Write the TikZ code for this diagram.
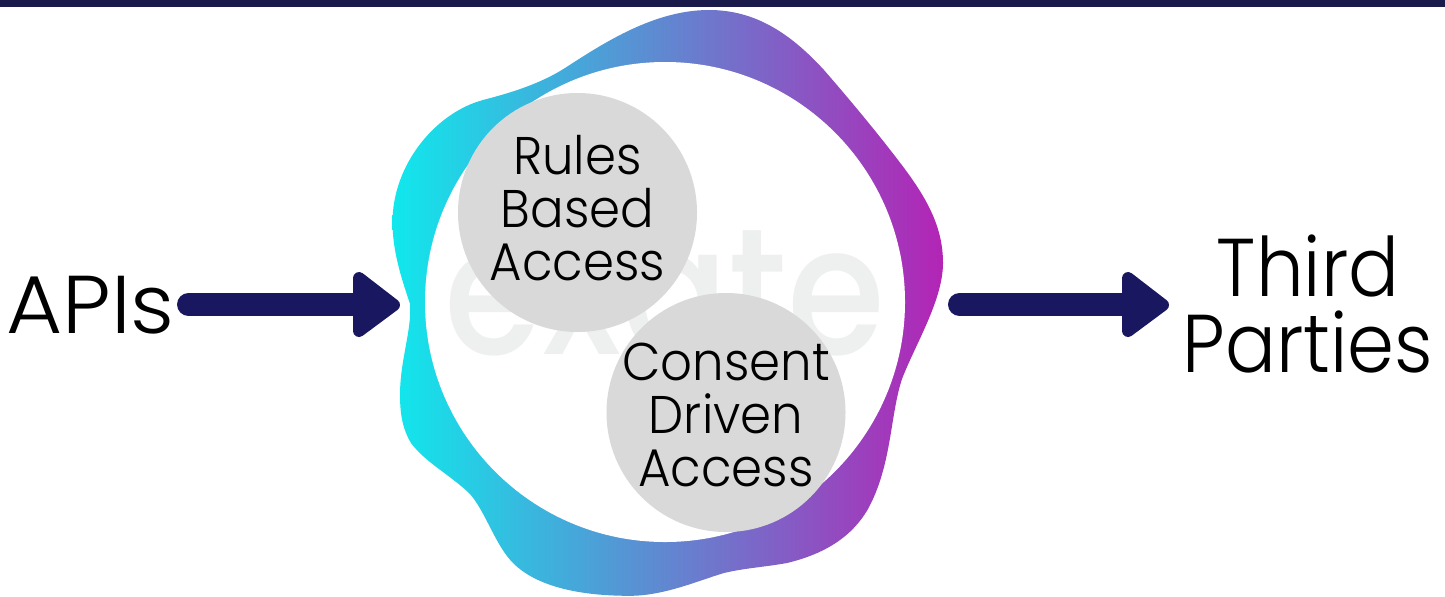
\documentclass[tikz,border=0pt]{standalone}
\usepackage{fontspec}
\setmainfont{Poppins}
\newfontfamily\lab{Poppins Light}
\newfontfamily\wmf{Poppins Medium}
\definecolor{navy}{HTML}{18175F}
\definecolor{barc}{HTML}{1A1A4B}
\definecolor{cy}{HTML}{10E8EC}
\definecolor{mg}{HTML}{B324B5}
\definecolor{circ}{HTML}{D9D9D9}
\definecolor{wm}{HTML}{EEEFEF}
\tikzset{
  x=0.5pt,y=-0.5pt,
  bubble/.style={circle,fill=circ,minimum size=119.5pt,inner sep=0pt},
  bubtext/.style={align=center,inner sep=0pt,xscale=0.94,font=\lab\fontsize{26.5}{26.4}\selectfont},
  biglabel/.style={align=center,font=\lab\fontsize{41}{37.8}\selectfont,inner sep=0pt},
  arrowbar/.style={navy,line width=11.5pt,line cap=round},
  arrowhead/.style={fill=navy,draw=navy,line width=6pt,line join=round},
}
\begin{document}
\begin{tikzpicture}
\useasboundingbox (0,0) rectangle (1445,596);
\fill[barc] (0,0) rectangle (1445,7);
\shade[left color=cy,right color=mg]
 (410,304) .. controls (404,285) and (392.5,255) .. (392.5,222)
 .. controls (392.5,165) and (435,113) .. (483,100)
 .. controls (510,93) and (540,84) .. (565,68)
 .. controls (605,42) and (655,10) .. (709,10)
 .. controls (755,10) and (790,33) .. (824,70)
 .. controls (850,100) and (875,130) .. (898,160)
 .. controls (925,195) and (943,225) .. (943,263)
 .. controls (943,300) and (915,345) .. (902,379)
 .. controls (890,415) and (892,465) .. (868,509)
 .. controls (850,540) and (820,555) .. (787,563)
 .. controls (765,567) and (745,568) .. (724,573)
 .. controls (700,580) and (665,595.5) .. (631,595.8)
 .. controls (590,596) and (540,590) .. (513,563)
 .. controls (495,545) and (485,510) .. (469,493)
 .. controls (450,475) and (425,462) .. (411,443)
 .. controls (403,430) and (400,415) .. (400,395)
 .. controls (400,360) and (412,330) .. (410,304) -- cycle;
\fill[white] (665,302) circle[radius=240];
\node[font=\wmf\fontsize{90}{90}\selectfont,text=wm,inner sep=0pt,anchor=base,xscale=0.88] (mark) at (665,354) {exate};
\node[bubble] (rules) at (577.5,212.5) {};
\node[bubble] (consent) at (726,412.5) {};
\node[bubtext] (rulestext) at (577.5,208) {Rules\\Based\\Access};
\node[bubtext] (consenttext) at (726,415) {Consent\\Driven\\Access};
\node[biglabel,xscale=1.05] (apis) at (90.5,305) {APIs};
\node[biglabel,xscale=0.92] (third) at (1308,304) {Third\\Parties};
\coordinate (a1) at (188.5,304.5);
\coordinate (a2) at (360,304.5);
\coordinate (b1) at (959.5,304.5);
\coordinate (b2) at (1130,304.5);
\draw[arrowbar] (a1) -- (a2);
\filldraw[arrowhead] (359,278) -- (394,305) -- (359,331) -- cycle;
\draw[arrowbar] (b1) -- (b2);
\filldraw[arrowhead] (1128,278) -- (1163,305) -- (1128,331) -- cycle;
\end{tikzpicture}
\end{document}
